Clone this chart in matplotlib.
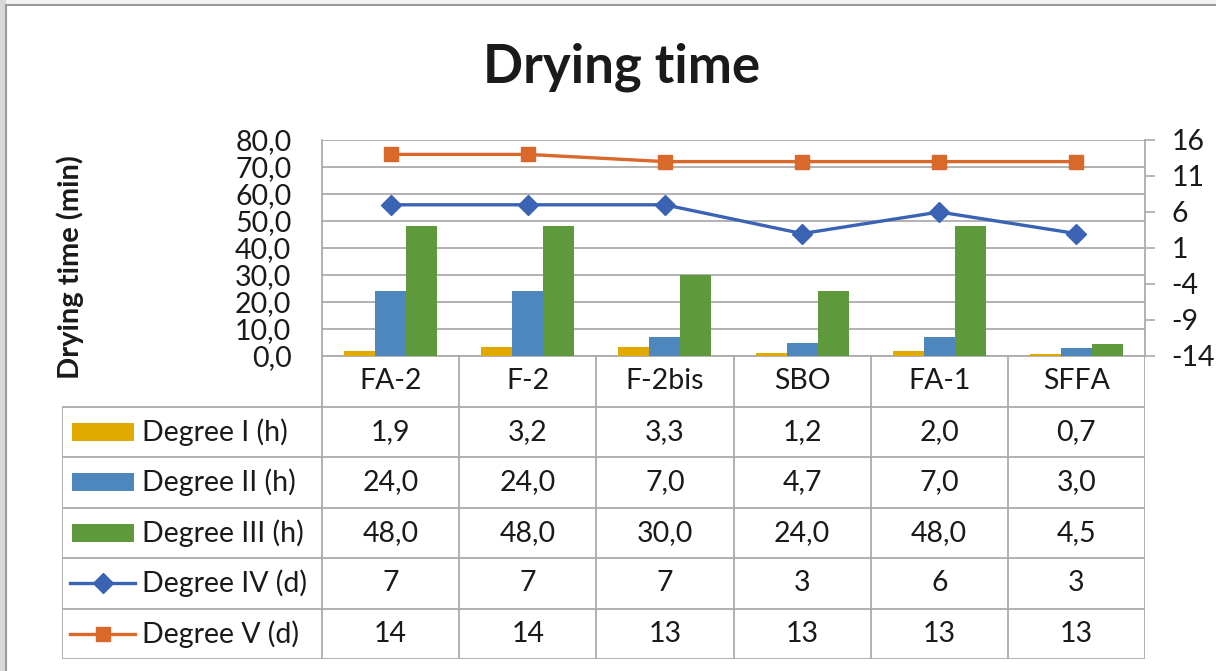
import matplotlib
matplotlib.use("Agg")
import matplotlib.pyplot as plt
from matplotlib.patches import Rectangle
from matplotlib.lines import Line2D
from matplotlib.ticker import FuncFormatter

# ---- data ----
categories = ["FA-2", "F-2", "F-2bis", "SBO", "FA-1", "SFFA"]
degree_1 = [1.9, 3.2, 3.3, 1.2, 2.0, 0.7]
degree_2 = [24.0, 24.0, 7.0, 4.7, 7.0, 3.0]
degree_3 = [48.0, 48.0, 30.0, 24.0, 48.0, 4.5]
degree_4 = [7, 7, 7, 3, 6, 3]
degree_5 = [14, 14, 13, 13, 13, 13]
series_names = ["Degree I (h)", "Degree II (h)", "Degree III (h)",
                "Degree IV (d)", "Degree V (d)"]
left_ticks = [0, 10, 20, 30, 40, 50, 60, 70, 80]
right_ticks = [-14, -9, -4, 1, 6, 11, 16]

# ---- style ----
FONT = "Lato"
plt.rcParams["font.family"] = [FONT, "DejaVu Sans"]
plt.rcParams["axes.unicode_minus"] = False
FS = 20.5
C_YEL = "#E2A900"
C_BLU = "#4E87BE"
C_GRN = "#5E9A3C"
C_LBLU = "#3B63B3"
C_ORG = "#D8692A"
C_GRID = "#ABABAB"
C_TEXT = "#1A1A1A"

W, H = 1216, 671
fig = plt.figure(figsize=(W / 100, H / 100), dpi=100)
fig.patch.set_facecolor("white")


def fx(px):
    return px / W


def fy(py):
    return 1 - py / H


# window frame around the chart
fig.patches.append(Rectangle((0, 0), fx(6), 1, transform=fig.transFigure,
                             facecolor="#D9D9D9", edgecolor="none", zorder=0))
fig.patches.append(Rectangle((fx(6), fy(4.5)), 1, 4.5 / H, transform=fig.transFigure,
                             facecolor="#F2F2F2", edgecolor="none", zorder=0))
fig.add_artist(Line2D([fx(6), fx(6)], [0, fy(4.5)], transform=fig.transFigure,
                      color="#9A9A9A", lw=1.5))
fig.add_artist(Line2D([fx(6), 1], [fy(4.5), fy(4.5)], transform=fig.transFigure,
                      color="#9A9A9A", lw=1.5))

plot_l, plot_r, plot_t, plot_b = 322, 1145, 140, 356
n_rows = 6
row_h = 50.5
table_b = plot_b + n_rows * row_h
table_l = 62
col_w = (plot_r - plot_l) / len(categories)

# ---- chart area ----
ax = fig.add_axes([fx(plot_l), fy(plot_b), (plot_r - plot_l) / W, (plot_b - plot_t) / H])
ax.set_xlim(-0.5, len(categories) - 0.5)
ax.set_ylim(0, 80)
ax.set_yticks(left_ticks)
ax.yaxis.set_major_formatter(FuncFormatter(lambda v, p: f"{v:.1f}".replace(".", ",")))
ax.tick_params(axis="y", length=0, pad=22, labelsize=FS, labelcolor=C_TEXT)
ax.set_xticks([])
ax.grid(axis="y", color=C_GRID, lw=1.3)
ax.set_axisbelow(True)
for s in ["left", "right", "top", "bottom"]:
    ax.spines[s].set_color(C_GRID)
    ax.spines[s].set_linewidth(1.3)
ax.spines["top"].set_visible(False)

xs = list(range(len(categories)))
bw = 31 / col_w
for off, vals, col in [(-bw, degree_1, C_YEL), (0, degree_2, C_BLU), (bw, degree_3, C_GRN)]:
    ax.bar([x + off for x in xs], vals, width=bw, color=col, zorder=3)

ax2 = ax.twinx()
ax2.set_ylim(-14, 16)
ax2.set_yticks(right_ticks)
ax2.tick_params(axis="y", direction="out", length=7, width=1.2, color=C_GRID,
                pad=12, labelsize=FS, labelcolor=C_TEXT)
for s in ["left", "right", "top", "bottom"]:
    ax2.spines[s].set_visible(False)
ax2.plot(xs, degree_4, color=C_LBLU, lw=2.4, marker="D", ms=10, zorder=4)
ax2.plot(xs, degree_5, color=C_ORG, lw=2.4, marker="s", ms=10.5, zorder=4)

# title and axis title
fig.text(fx(622), fy(67), "Drying time", ha="center", va="center",
         fontsize=38, fontweight="bold", color=C_TEXT)
fig.text(fx(70), fy(267), "Drying time (min)", ha="center", va="center",
         rotation=90, fontsize=21, fontweight="bold", color=C_TEXT)

# ---- data table ----
tax = fig.add_axes([fx(table_l), fy(table_b), (plot_r - table_l) / W, (table_b - plot_b) / H])
x_left = -0.5 - (plot_l - table_l) / col_w
tax.set_xlim(x_left, len(categories) - 0.5)
tax.set_ylim(n_rows, 0)
tax.axis("off")

lkw = dict(color=C_GRID, lw=1.3, solid_capstyle="butt")
for k in range(len(categories) + 1):
    tax.plot([k - 0.5, k - 0.5], [0, n_rows], **lkw)
tax.plot([x_left, x_left], [1, n_rows], **lkw)
for r in range(1, n_rows + 1):
    tax.plot([x_left, len(categories) - 0.5], [r, r], **lkw)

for i, c in enumerate(categories):
    tax.text(i, 0.5, c, ha="center", va="center", fontsize=FS, color=C_TEXT)

rows = [
    [f"{v:.1f}".replace(".", ",") for v in degree_1],
    [f"{v:.1f}".replace(".", ",") for v in degree_2],
    [f"{v:.1f}".replace(".", ",") for v in degree_3],
    [f"{v:d}" for v in degree_4],
    [f"{v:d}" for v in degree_5],
]
for r, vals in enumerate(rows, start=1):
    for i, t in enumerate(vals):
        tax.text(i, r + 0.5, t, ha="center", va="center", fontsize=FS, color=C_TEXT)


def px2x(px):
    return x_left + (px - table_l) / col_w


key_l, key_r = px2x(72), px2x(134)
key_h = 18 / row_h
for r, (name, col) in enumerate(zip(series_names[:3], [C_YEL, C_BLU, C_GRN]), start=1):
    tax.add_patch(Rectangle((key_l, r + 0.5 - key_h / 2), key_r - key_l, key_h,
                            facecolor=col, edgecolor="none"))
for r, col, mk, ms in [(4, C_LBLU, "D", 10), (5, C_ORG, "s", 10.5)]:
    tax.plot([px2x(70), px2x(135)], [r + 0.5, r + 0.5], color=col, lw=2.4)
    tax.plot([px2x(102.5)], [r + 0.5], color=col, marker=mk, ms=ms)
for r, name in enumerate(series_names, start=1):
    tax.text(px2x(142), r + 0.5, name, ha="left", va="center", fontsize=FS, color=C_TEXT)

fig.savefig("out.png", dpi=100)
